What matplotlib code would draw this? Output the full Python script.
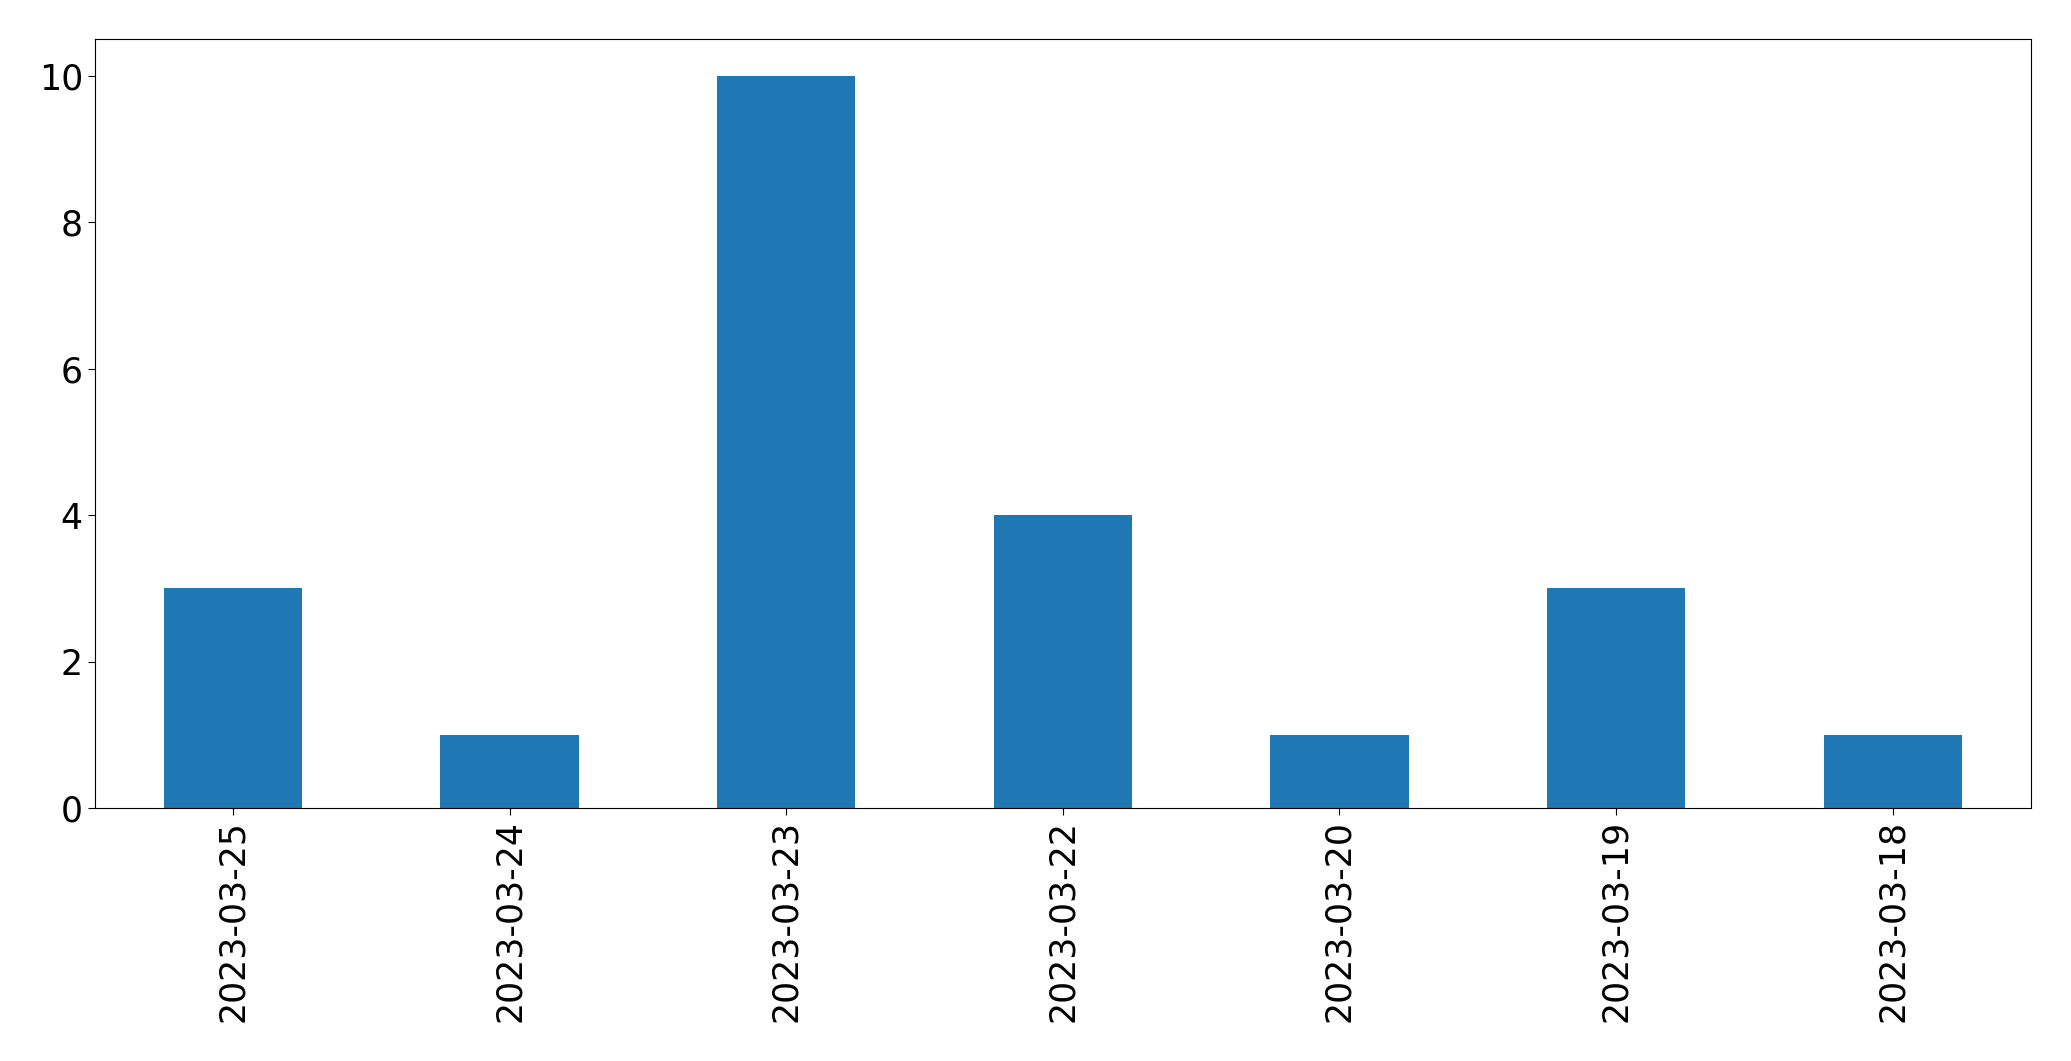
import matplotlib
matplotlib.use("Agg")
import matplotlib.pyplot as plt

dates = ["2023-03-25", "2023-03-24", "2023-03-23", "2023-03-22",
         "2023-03-20", "2023-03-19", "2023-03-18"]
counts = [3, 1, 10, 4, 1, 3, 1]

W, H = 2071, 1061
fig = plt.figure(figsize=(W / 100, H / 100), dpi=100)
left, right, top, bottom = 94.7, 2031, 39.3, 808
ax = fig.add_axes([left / W, 1 - bottom / H, (right - left) / W, (bottom - top) / H])

x = list(range(len(dates)))
ax.bar(x, counts, width=0.5, color="#1f77b4")
ax.set_xlim(-0.5, len(dates) - 0.5)
ax.set_ylim(0, 10.5)
ax.set_xticks(x)
ax.set_xticklabels(dates, rotation=90)
ax.set_yticks([0, 2, 4, 6, 8, 10])
ax.tick_params(labelsize=25, length=5)

fig.savefig("out.png", dpi=100)
